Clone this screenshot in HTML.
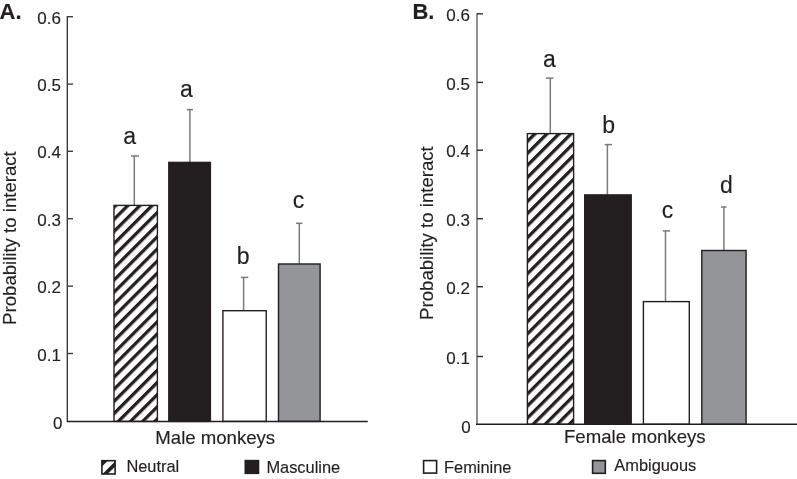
<!DOCTYPE html>
<html><head><meta charset="utf-8"><style>
html,body{margin:0;padding:0;background:#fff;width:797px;height:479px;overflow:hidden}
svg{display:block;will-change:transform}
text{font-family:"Liberation Sans",sans-serif;fill:#231f20;stroke:#231f20;stroke-width:0.15px}
.t{font-size:17px}
.l{font-size:23px}
.ax{font-size:18.6px}
.lg{font-size:16.4px}
.b{font-size:22px;font-weight:bold}
</style></head><body>
<svg width="797" height="479" viewBox="0 0 797 479">
<defs>
<pattern id="h" patternUnits="userSpaceOnUse" x="2.337" y="0" width="8.584" height="20" patternTransform="rotate(45)">
<rect width="8.584" height="20" fill="#fff"/>
<rect x="0" y="0" width="3.3" height="20" fill="#231f20"/>
</pattern>
<pattern id="hB" patternUnits="userSpaceOnUse" x="3.357" y="0" width="8.507" height="20" patternTransform="rotate(45)">
<rect width="8.507" height="20" fill="#fff"/>
<rect x="0" y="0" width="3.3" height="20" fill="#231f20"/>
</pattern>
</defs>
<!-- Panel labels -->
<text class="b" x="-0.5" y="18.5">A.</text>
<text class="b" x="412.4" y="18.5">B.</text>

<!-- ===== Panel A ===== -->
<g stroke="#3d3d3d" stroke-width="1.4" fill="none">
<line x1="67.3" y1="16" x2="67.3" y2="422"/>
<line x1="67" y1="16.7" x2="73" y2="16.7"/>
<line x1="67" y1="84.1" x2="73" y2="84.1"/>
<line x1="67" y1="151.3" x2="73" y2="151.3"/>
<line x1="67" y1="218.7" x2="73" y2="218.7"/>
<line x1="67" y1="286.1" x2="73" y2="286.1"/>
<line x1="67" y1="353.5" x2="73" y2="353.5"/>
</g>
<g class="t" text-anchor="end">
<text class="t" x="61" y="23.8">0.6</text>
<text class="t" x="61" y="91">0.5</text>
<text class="t" x="61" y="158.3">0.4</text>
<text class="t" x="61" y="225.7">0.3</text>
<text class="t" x="61" y="293.1">0.2</text>
<text class="t" x="61" y="360.5">0.1</text>
<text class="t" x="62.4" y="429.2">0</text>
</g>
<!-- error bars A -->
<g stroke="#7a7a7c" stroke-width="1.5" fill="none">
<line x1="134.3" y1="156" x2="134.3" y2="205.7"/><line x1="131" y1="156" x2="139" y2="156"/>
<line x1="189.9" y1="109.6" x2="189.9" y2="162.7"/><line x1="186.7" y1="109.6" x2="193" y2="109.6"/>
<line x1="243.6" y1="277.4" x2="243.6" y2="311"/><line x1="240.9" y1="277.4" x2="248.2" y2="277.4"/>
<line x1="299.3" y1="223.3" x2="299.3" y2="264.3"/><line x1="296.1" y1="223.3" x2="302.3" y2="223.3"/>
</g>
<!-- bars A -->
<g stroke="#231f20" stroke-width="1.4">
<rect x="114.00" y="205.40" width="43.40" height="216.00" fill="url(#h)"/>
<rect x="168.80" y="162.40" width="41.60" height="259.00" fill="#231f20"/>
<rect x="222.90" y="310.70" width="43.30" height="110.70" fill="#fff"/>
<rect x="278.50" y="264.00" width="41.60" height="157.40" fill="#939598"/>
</g>
<line x1="67" y1="421.4" x2="367.8" y2="421.4" stroke="#231f20" stroke-width="1.5"/>
<g class="l" text-anchor="middle">
<text class="l" x="129.6" y="143.8">a</text>
<text class="l" x="186.5" y="96.6">a</text>
<text class="l" x="243.1" y="263.6">b</text>
<text class="l" x="298.6" y="207.6">c</text>
</g>
<text class="ax" transform="translate(16.1,324.9) rotate(-90)">Probability to interact</text>
<text class="ax" x="155.3" y="443.6">Male monkeys</text>
<!-- legend A -->
<clipPath id="lc"><rect x="101.9" y="460.7" width="13.2" height="13.3"/></clipPath>
<g clip-path="url(#lc)"><rect x="101" y="460" width="15" height="15" fill="#fff"/>
<polygon points="100,460 108.5,460 100,468.5" fill="#231f20"/>
<polygon points="116.5,460 121.7,460 106.7,475 101.5,475" fill="#231f20"/></g>
<rect x="101.9" y="460.7" width="13.2" height="13.3" fill="none" stroke="#231f20" stroke-width="1.6"/>
<text class="lg" x="126.4" y="472.3">Neutral</text>
<rect x="244.5" y="459.8" width="14.8" height="14.3" fill="#231f20"/>
<text class="lg" x="266.4" y="473">Masculine</text>

<!-- ===== Panel B ===== -->
<line x1="477" y1="13.2" x2="477" y2="424.5" stroke="#8a8a8a" stroke-width="1.9"/>
<g stroke="#2d2d2d" stroke-width="1.4" fill="none">
<line x1="477" y1="13.7" x2="483" y2="13.9"/>
<line x1="477" y1="82.4" x2="483" y2="82.4"/>
<line x1="477" y1="150.2" x2="483" y2="150.2"/>
<line x1="477" y1="218.7" x2="483" y2="218.7"/>
<line x1="477" y1="286.7" x2="483" y2="286.7"/>
<line x1="477" y1="356.5" x2="483" y2="356.5"/>
</g>
<g text-anchor="end">
<text class="t" x="470" y="20.9">0.6</text>
<text class="t" x="470" y="89.6">0.5</text>
<text class="t" x="470" y="157.2">0.4</text>
<text class="t" x="470" y="225.7">0.3</text>
<text class="t" x="470" y="293.7">0.2</text>
<text class="t" x="470" y="363.5">0.1</text>
<text class="t" x="470.8" y="432.6">0</text>
</g>
<g stroke="#7a7a7c" stroke-width="1.5" fill="none">
<line x1="550.3" y1="78.1" x2="550.3" y2="133.9"/><line x1="545.8" y1="78.1" x2="553.5" y2="78.1"/>
<line x1="607.4" y1="144.6" x2="607.4" y2="195.2"/><line x1="604.8" y1="144.6" x2="612.1" y2="144.6"/>
<line x1="665.5" y1="230.9" x2="665.5" y2="301.9"/><line x1="662.8" y1="230.9" x2="670.1" y2="230.9"/>
<line x1="723.9" y1="207" x2="723.9" y2="250.8"/><line x1="721" y1="207" x2="726.6" y2="207"/>
</g>
<g stroke="#231f20" stroke-width="1.4">
<rect x="527.40" y="133.60" width="46.20" height="290.70" fill="url(#hB)"/>
<rect x="584.70" y="194.90" width="46.50" height="229.40" fill="#231f20"/>
<rect x="643.40" y="301.60" width="45.90" height="122.70" fill="#fff"/>
<rect x="701.80" y="250.50" width="44.30" height="173.80" fill="#939598"/>
</g>
<line x1="476" y1="424.3" x2="797" y2="424.3" stroke="#231f20" stroke-width="1.5"/>
<g text-anchor="middle">
<text class="l" x="549.3" y="66.9">a</text>
<text class="l" x="608.6" y="132.5">b</text>
<text class="l" x="667.6" y="217.5">c</text>
<text class="l" x="726.3" y="192.6">d</text>
</g>
<text class="ax" transform="translate(432.5,319.9) rotate(-90)">Probability to interact</text>
<text class="ax" x="564" y="443">Female monkeys</text>
<!-- legend B -->
<rect x="423.6" y="460.6" width="13" height="12.5" fill="#fff" stroke="#231f20" stroke-width="1.6"/>
<text class="lg" x="444" y="472.6">Feminine</text>
<rect x="592.6" y="460.6" width="12.7" height="12.7" fill="#939598" stroke="#231f20" stroke-width="1.6"/>
<text class="lg" x="614.3" y="470.8">Ambiguous</text>
</svg>
</body></html>
